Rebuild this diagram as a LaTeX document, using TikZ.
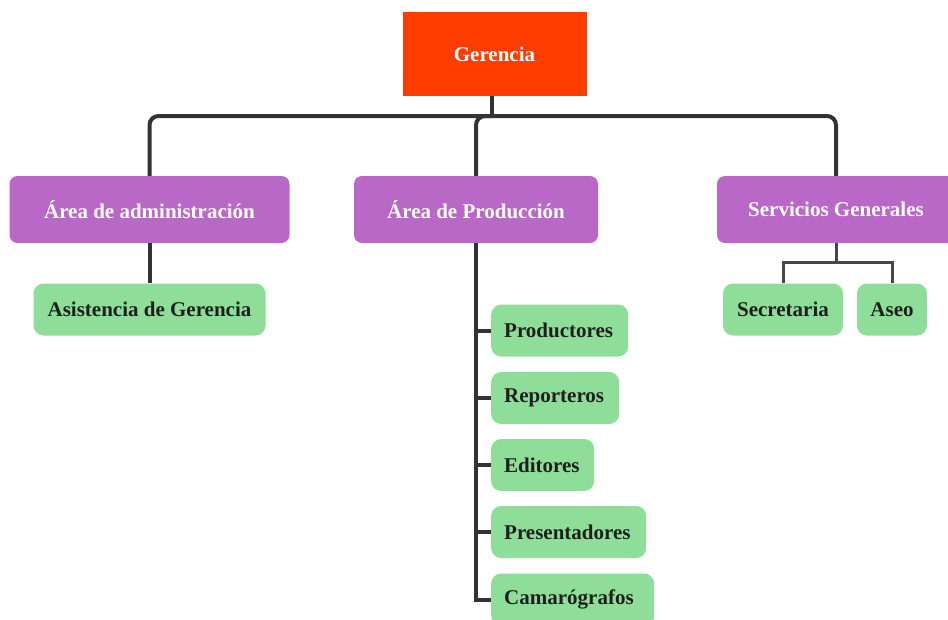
\documentclass[tikz,border=0pt]{standalone}
\usepackage{fontspec}
\setmainfont{Liberation Serif}
\definecolor{jefe}{HTML}{FF3D00}
\definecolor{area}{HTML}{BA68C8}
\definecolor{cargo}{HTML}{8EDE99}
\definecolor{linea}{HTML}{333333}
\begin{document}
\begin{tikzpicture}[x=1pt, y=-1pt,
    base/.style={font=\fontsize{21}{25}\selectfont\bfseries, inner sep=0pt},
    jefebox/.style={base, fill=jefe, text=white, minimum width=184pt, minimum height=84pt},
    areabox/.style={base, fill=area, text=white, rounded corners=8pt, minimum height=67pt},
    cargobox/.style={base, fill=cargo, text=black!88, rounded corners=10pt, inner xsep=13pt, minimum height=52pt},
    listbox/.style={cargobox, anchor=west, align=left, text width=#1},
    trunk/.style={draw=linea, line width=4pt},
    rama/.style={draw=black!72, line width=3pt}]

    \useasboundingbox (0,0) rectangle (948,619);

    % Boxes
    \node[jefebox] (gerencia) at (494.5,54) {Gerencia};
    \node[areabox, minimum width=280pt] (admin) at (149.5,209.5) {Área de administración};
    \node[areabox, minimum width=244pt] (produccion) at (476,209.5) {Área de Producción};
    \node[areabox, minimum width=238pt] (servicios) at (836,209.5) {Servicios Generales};

    \node[cargobox, minimum width=232pt] (asistencia) at (149.5,309.5) {Asistencia de Gerencia};
    \node[cargobox, minimum width=120pt] (secretaria) at (783,309.5) {Secretaria};
    \node[cargobox, minimum width=70pt] (aseo) at (892,309.5) {Aseo};

    \node[listbox=111pt] (productores) at (491,330.5) {Productores};
    \node[listbox=102pt] (reporteros) at (491,398) {Reporteros};
    \node[listbox=77pt] (editores) at (491,465) {Editores};
    \node[listbox=129pt] (presentadores) at (491,532) {Presentadores};
    \node[listbox=137pt] (camara) at (491,599.5) {Camarógrafos};

    % Lines
    \coordinate (bus) at (492,116);
    \coordinate (sg) at (836,262);
    \draw[trunk] (492,96) -- (bus);
    \draw[trunk, rounded corners=9pt] (admin.north) |- (bus) -| (servicios.north);
    \draw[trunk, rounded corners=9pt] (bus) -| (produccion.north);
    \draw[trunk] (admin.south) -- (asistencia.north);

    \draw[trunk] (produccion.south) |- (camara.west);
    \foreach \n in {productores,reporteros,editores,presentadores}
        \draw[trunk] (produccion.south |- \n.west) -- (\n.west);

    \draw[rama] (servicios.south) -- (sg);
    \draw[rama] (sg) -| (secretaria.north);
    \draw[rama] (sg) -| (aseo.north);

\end{tikzpicture}
\end{document}
